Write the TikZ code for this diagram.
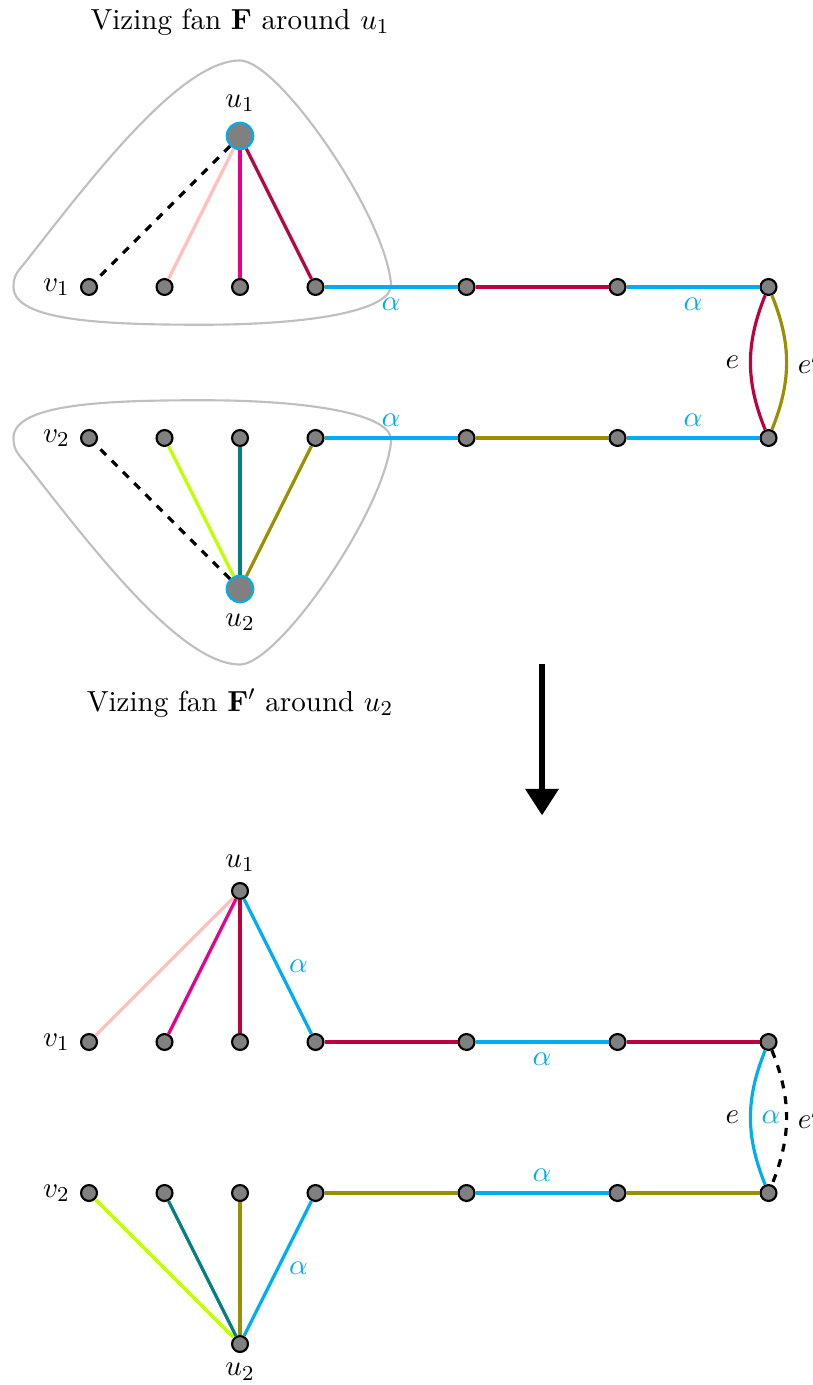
\documentclass[tikz,border=0pt,11pt]{standalone}
\usepackage{amsfonts,amsmath,amssymb}
\usepackage{xcolor}
\usepackage{tikz}
\usetikzlibrary{arrows.meta}

\definecolor{alphablue}{RGB}{0,174,239}
\definecolor{fanmagenta}{RGB}{230,0,140}
\definecolor{fanolive}{RGB}{153,143,0}

\tikzset{
  vtx/.style={circle,draw=black,thick,fill=gray,inner sep=0pt,minimum size=6pt},
  hub/.style={vtx,draw=alphablue,minimum size=10pt},
  edg/.style={very thick},
  hull/.style={thick,lightgray},
  alab/.style={text=alphablue},
  elab/.style={text=black}
}

\begin{document}
\begin{tikzpicture}[>=stealth]
\useasboundingbox (-1.179,-14.543) rectangle (9.589,3.801);
% before the recolouring
\node (ttl1) at (2,3.51) {Vizing fan $\mathbf{F}$ around $u_1$};
\node (ttl2) at (2,-5.51) {Vizing fan $\mathbf{F}'$ around $u_2$};
\draw[hull] (2,3) .. controls (2.5,3) and (3.9,1.0) .. (4,0.05)
  .. controls (4.05,-0.3) and (3,-0.5) .. (1.5,-0.5)
  .. controls (0.2,-0.5) and (-1,-0.45) .. (-1,0)
  .. controls (-1,0.15) and (-0.95,0.2) .. (-0.85,0.32)
  .. controls (0,1.4) and (1.2,3) .. (2,3) -- cycle;
\draw[hull] (2,-5) .. controls (2.5,-5) and (3.9,-3.0) .. (4,-2.05)
  .. controls (4.05,-1.7) and (3,-1.5) .. (1.5,-1.5)
  .. controls (0.2,-1.5) and (-1,-1.55) .. (-1,-2)
  .. controls (-1,-2.15) and (-0.95,-2.2) .. (-0.85,-2.32)
  .. controls (0,-3.4) and (1.2,-5) .. (2,-5) -- cycle;
\node[hub,label=above:$u_1$] (u1) at (2,2) {};
\node[hub,label=below:$u_2$] (u2) at (2,-4) {};
\node[vtx,label=left:$v_1$] (a1) at (0,0) {};
\node[vtx,label=left:$v_2$] (a2) at (0,-2) {};
\foreach \n/\x in {b/1,c/2,d/3,e/5,f/7,g/9}{
  \node[vtx] (\n1) at (\x,0) {};
  \node[vtx] (\n2) at (\x,-2) {};
}
\draw[edg,dashed] (u1)--(a1);
\draw[edg,pink] (u1)--(b1);
\draw[edg,fanmagenta] (u1)--(c1);
\draw[edg,purple] (u1)--(d1);
\draw[edg,alphablue] (d1)--node[below,alab]{$\alpha$}(e1);
\draw[edg,purple] (e1)--(f1);
\draw[edg,alphablue] (f1)--node[below,alab]{$\alpha$}(g1);
\draw[edg,purple] (g1) to[bend right=22] node[left,elab]{$e$} (g2);
\draw[edg,fanolive] (g1) to[bend left=22] node[right,elab]{$e'$} (g2);
\draw[edg,alphablue] (d2)--node[above,alab]{$\alpha$}(e2);
\draw[edg,fanolive] (e2)--(f2);
\draw[edg,alphablue] (f2)--node[above,alab]{$\alpha$}(g2);
\draw[edg,dashed] (u2)--(a2);
\draw[edg,lime] (u2)--(b2);
\draw[edg,teal] (u2)--(c2);
\draw[edg,fanolive] (u2)--(d2);
% arrow
\coordinate (arrtop) at (6,-5);
\coordinate (arrbot) at (6,-7);
\draw[line width=2.6pt,-{Triangle[length=10pt,width=12pt]}] (arrtop)--(arrbot);
% after the recolouring
\node[vtx,label=above:$u_1$] (u3) at (2,-8) {};
\node[vtx,label=below:$u_2$] (u4) at (2,-14) {};
\node[vtx,label=left:$v_1$] (a3) at (0,-10) {};
\node[vtx,label=left:$v_2$] (a4) at (0,-12) {};
\foreach \n/\x in {b/1,c/2,d/3,e/5,f/7,g/9}{
  \node[vtx] (\n3) at (\x,-10) {};
  \node[vtx] (\n4) at (\x,-12) {};
}
\draw[edg,pink] (u3)--(a3);
\draw[edg,fanmagenta] (u3)--(b3);
\draw[edg,purple] (u3)--(c3);
\draw[edg,alphablue] (u3)--node[right,alab]{$\alpha$}(d3);
\draw[edg,purple] (d3)--(e3);
\draw[edg,alphablue] (e3)--node[below,alab]{$\alpha$}(f3);
\draw[edg,purple] (f3)--(g3);
\draw[edg,alphablue] (g3) to[bend right=22] node[left,elab]{$e$} node[right,alab]{$\alpha$} (g4);
\draw[edg,dashed] (g3) to[bend left=22] node[right,elab]{$e'$} (g4);
\draw[edg,fanolive] (d4)--(e4);
\draw[edg,alphablue] (e4)--node[above,alab]{$\alpha$}(f4);
\draw[edg,fanolive] (f4)--(g4);
\draw[edg,lime] (u4)--(a4);
\draw[edg,teal] (u4)--(b4);
\draw[edg,fanolive] (u4)--(c4);
\draw[edg,alphablue] (u4)--node[right,alab]{$\alpha$}(d4);
\end{tikzpicture}
\end{document}
